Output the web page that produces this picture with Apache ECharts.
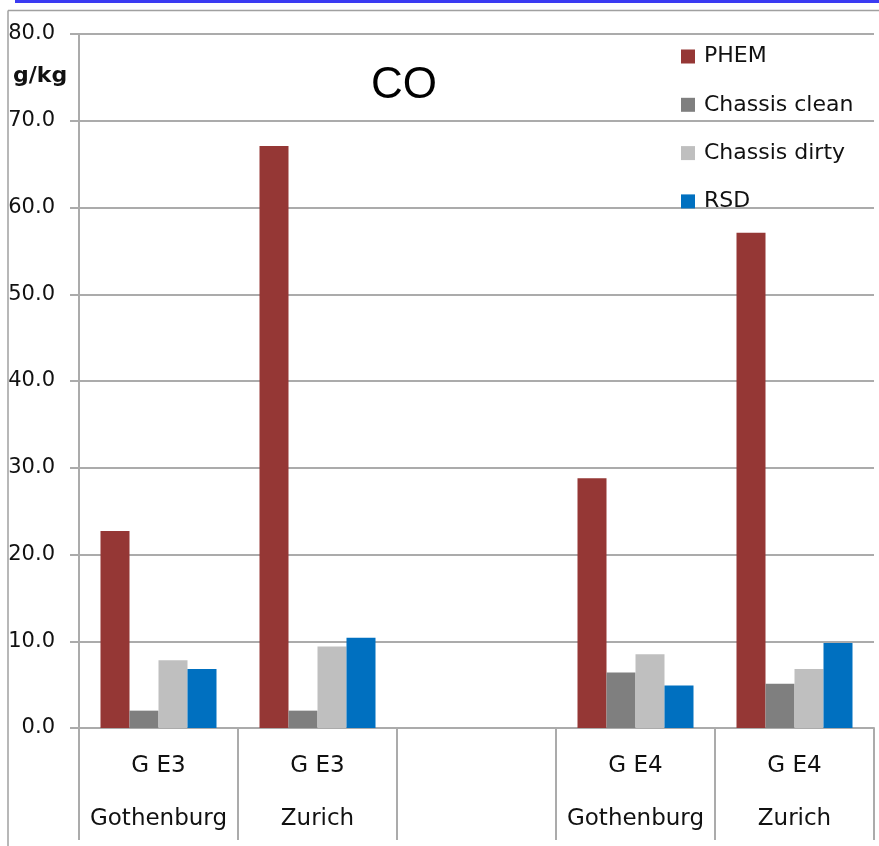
<!DOCTYPE html>
<html>
<head>
<meta charset="utf-8">
<script src="https://cdn.jsdelivr.net/npm/echarts@6/dist/echarts.min.js"></script>
<style>
html,body{margin:0;padding:0;background:#fff;overflow:hidden;}
#chart{width:879px;height:846px;}
</style>
</head>
<body>
<div id="chart"></div>
<script>
var categoryTop = ['G E3', 'G E3', '', 'G E4', 'G E4'];
var categoryBottom = ['Gothenburg', 'Zurich', '', 'Gothenburg', 'Zurich'];
var seriesNames = ['PHEM', 'Chassis clean', 'Chassis dirty', 'RSD'];
var phem = [22.7, 67.1, null, 28.8, 57.1];
var chassisClean = [2.0, 2.0, null, 6.4, 5.1];
var chassisDirty = [7.8, 9.4, null, 8.5, 6.8];
var rsd = [6.8, 10.4, null, 4.9, 9.8];
var yTicks = [0, 10, 20, 30, 40, 50, 60, 70, 80];

var colors = ['#953735', '#7f7f7f', '#bfbfbf', '#0070c0'];
var values = [phem, chassisClean, chassisDirty, rsd];
var categories = categoryTop.map(function (t, i) { return t ? t + '\n' + categoryBottom[i] : ''; });

var chart = echarts.init(document.getElementById('chart'), null, {renderer: 'canvas'});
var gridColor = '#ababab';
var textColor = '#111';
var option = {
  animation: false,
  backgroundColor: '#fff',
  title: {
    text: 'CO',
    left: 404, top: 64,
    textAlign: 'center',
    padding: 0,
    textStyle: {fontFamily: 'Liberation Sans', fontSize: 44, fontWeight: 'normal', color: '#000'}
  },
  legend: {
    orient: 'vertical',
    left: 681, top: 43,
    padding: 0,
    itemWidth: 14, itemHeight: 14,
    itemGap: 21.3,
    icon: 'rect',
    data: seriesNames,
    textStyle: {fontFamily: 'DejaVu Sans', fontSize: 22, lineHeight: 24, color: textColor, padding: [0, 0, 3, 4]}
  },
  grid: {left: 79, right: 5, top: 34, height: 700, containLabel: false},
  xAxis: {
    type: 'category',
    data: categories,
    axisLine: {show: true, lineStyle: {color: gridColor, width: 2}},
    axisTick: {show: true, interval: 0, length: 112, lineStyle: {color: gridColor, width: 2}},
    axisLabel: {interval: 0, margin: 12, lineHeight: 53, fontFamily: 'DejaVu Sans', fontSize: 23, color: textColor}
  },
  yAxis: {
    type: 'value',
    min: yTicks[0], max: yTicks[yTicks.length - 1], interval: 10,
    axisLine: {show: true, lineStyle: {color: gridColor, width: 2}},
    axisTick: {show: true, length: 9, lineStyle: {color: gridColor, width: 2}},
    splitLine: {show: true, lineStyle: {color: gridColor, width: 2}},
    axisLabel: {margin: 24, fontFamily: 'DejaVu Sans', fontSize: 21, color: textColor,
      formatter: function (v) { return v.toFixed(1); }}
  },
  graphic: [
    {type: 'rect', shape: {x: 15, y: 0, width: 864, height: 3}, style: {fill: '#3b3bf2'}},
    {type: 'line', shape: {x1: 8, y1: 10.5, x2: 879, y2: 10.5}, style: {stroke: '#a0a0a0', lineWidth: 1.5}},
    {type: 'line', shape: {x1: 8, y1: 10.5, x2: 8, y2: 846}, style: {stroke: '#a0a0a0', lineWidth: 1.5}},
    {type: 'text', left: 13, top: 65, style: {text: 'g/kg', fontFamily: 'DejaVu Sans', fontWeight: 'bold', fontSize: 22, fill: textColor}}
  ],
  series: seriesNames.map(function (name, i) {
    return {
      name: name,
      type: 'bar',
      data: values[i],
      barWidth: 29,
      barGap: '0%',
      itemStyle: {color: colors[i]}
    };
  })
};
chart.setOption(option);
</script>
</body>
</html>
